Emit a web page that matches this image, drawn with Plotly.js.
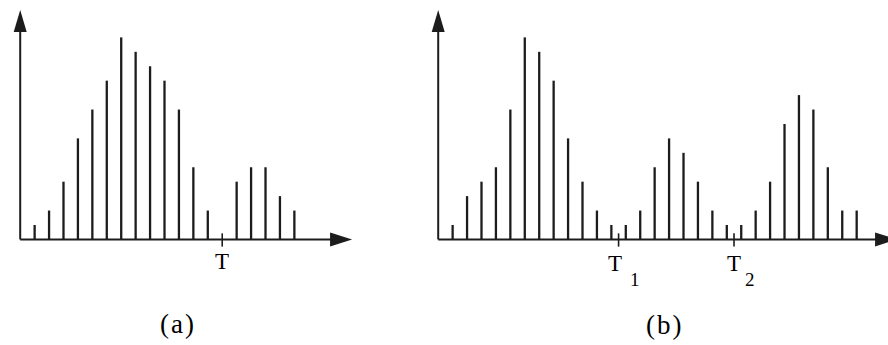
<!DOCTYPE html>
<html><head><meta charset="utf-8">
<script src="https://cdn.plot.ly/plotly-3.0.1.min.js"></script>
<style>html,body{margin:0;padding:0;background:#fff;}#chart{width:888px;height:345px;}</style>
</head><body><div id="chart"></div>
<script>
// ---- data ----
const binsA   = [1,2,3,4,5,6,7,8,9,10,11,12,13,15,16,17,18,19];
const countsA = [1,2,4,7,9,11,14,13,12,11,9,5,2,4,5,5,3,2];
const thresholdsA = [14];
const thresholdLabelsA = ['T'];

const binsB   = [1,2,3,4,5,6,7,8,9,10,11,12,13,14,15,16,17,18,19,20,21,22,23,24,25,26,27,28,29];
const countsB = [1,3,4,5,9,14,13,11,7,4,2,1,1,2,5,7,6,4,2,1,1,2,4,8,10,9,5,2,2];
const thresholdsB = [12.5, 20.5];
const thresholdLabelsB = ['T','T'];
const thresholdSubsB = ['1','2'];

const panelLabels = ['(a)', '(b)'];

// ---- geometry / style ----
const W = 888, H = 345, UNIT = 14.43, BASE = 239.4;
const originA = 20.2, originB = 438.2, split = 418;
const INK = '#1c1c1c';
const TXT = '#000';
const FONT = 'Liberation Serif, Times New Roman, serif';
const yTop = 15.9;
const xEndA = 23.0, xEndB = 31.8;

function rng(p0, p1, origin) { return [(p0 - origin) / UNIT, (p1 - origin) / UNIT]; }
function py(p) { return 1 - p / H; }
function px(p) { return p / W; }

function tickTrace(ts, xa, ya) {
  const x = [], y = [];
  ts.forEach(t => { x.push(t, t, null); y.push(-0.5, 0.42, null); });
  return {type:'scatter', mode:'lines', x, y, xaxis:xa, yaxis:ya,
          line:{color:INK, width:1.6}, hoverinfo:'skip', showlegend:false};
}

const traces = [
  {type:'bar', x:binsA, y:countsA, xaxis:'x', yaxis:'y', width:0.16,
   marker:{color:INK, line:{width:0}}, showlegend:false},
  {type:'bar', x:binsB, y:countsB, xaxis:'x2', yaxis:'y2', width:0.16,
   marker:{color:INK, line:{width:0}}, showlegend:false},
  tickTrace(thresholdsA, 'x', 'y'),
  tickTrace(thresholdsB, 'x2', 'y2')
];

function axisShapes(xr, yr, xEnd) {
  return [
    {type:'line', xref:xr, yref:yr, x0:0, y0:0, x1:xEnd - 1, y1:0, line:{color:INK, width:2}},
    {type:'line', xref:xr, yref:yr, x0:0, y0:0, x1:0, y1:yTop - 1, line:{color:INK, width:2}},
    {type:'path', xref:xr, yref:yr, xsizemode:'pixel', ysizemode:'pixel',
     xanchor:0, yanchor:yTop, path:'M0,0 L-6.5,-22 L6.5,-22 Z',
     fillcolor:INK, line:{width:0}},
    {type:'path', xref:xr, yref:yr, xsizemode:'pixel', ysizemode:'pixel',
     xanchor:xEnd, yanchor:0, path:'M0,0 L-22,7 L-22,-7 Z',
     fillcolor:INK, line:{width:0}}
  ];
}

const annotations = [];
thresholdsA.forEach((t, i) => annotations.push({
  xref:'x', yref:'paper', x:t, y:py(261), xanchor:'center', yanchor:'middle',
  text:thresholdLabelsA[i], showarrow:false, font:{family:FONT, size:23, color:TXT}
}));
thresholdsB.forEach((t, i) => {
  annotations.push({
    xref:'x2', yref:'paper', x:t, y:py(263), xanchor:'center', yanchor:'middle',
    xshift: i === 0 ? -4 : 0,
    text:thresholdLabelsB[i], showarrow:false, font:{family:FONT, size:23, color:TXT}
  });
  annotations.push({
    xref:'x2', yref:'paper', x:t, y:py(279), xanchor:'center', yanchor:'middle',
    xshift:16,
    text:thresholdSubsB[i], showarrow:false, font:{family:FONT, size:19, color:TXT}
  });
});
const spaced = s => '<span style="letter-spacing:2px">' + s + '</span>';
annotations.push({xref:'paper', yref:'paper', x:px(178), y:py(324), xanchor:'center', yanchor:'middle',
  text:spaced(panelLabels[0]), showarrow:false, font:{family:FONT, size:27, color:TXT}});
annotations.push({xref:'paper', yref:'paper', x:px(664), y:py(325), xanchor:'center', yanchor:'middle',
  text:spaced(panelLabels[1]), showarrow:false, font:{family:FONT, size:27, color:TXT}});

const yr = [-(H - BASE) / UNIT, BASE / UNIT];
const layout = {
  width:W, height:H, margin:{l:0, r:0, t:0, b:0, pad:0},
  paper_bgcolor:'#fff', plot_bgcolor:'rgba(0,0,0,0)',
  showlegend:false, bargap:0.3,
  xaxis:{domain:[0, split / W], range:rng(0, split, originA), visible:false, fixedrange:true},
  xaxis2:{domain:[split / W, 1], range:rng(split, W, originB), visible:false, fixedrange:true},
  yaxis:{domain:[0, 1], range:yr, visible:false, fixedrange:true},
  yaxis2:{domain:[0, 1], range:yr, anchor:'x2', visible:false, fixedrange:true},
  shapes:[...axisShapes('x', 'y', xEndA), ...axisShapes('x2', 'y2', xEndB)],
  annotations
};
Plotly.newPlot('chart', traces, layout, {staticPlot:true, displayModeBar:false});
</script></body></html>
